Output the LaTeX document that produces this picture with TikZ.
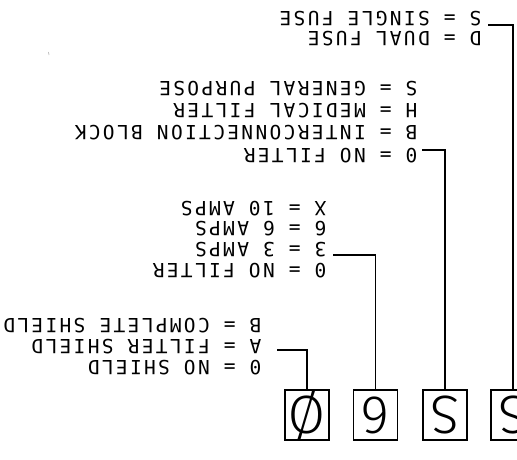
\documentclass[tikz,border=0pt]{standalone}
\usepackage{fontspec}
\newfontfamily\cadfont[LetterSpace=12]{DejaVu Sans Mono}
\newfontfamily\boxfont{Fira Sans Light}
\begin{document}
\begin{tikzpicture}[x=1pt,y=-1pt,line width=1.1pt,
  codetext/.style={rotate=180,anchor=west,inner sep=0pt,text height=13.5pt,text depth=0pt,font=\cadfont\fontsize{19.5}{20}\selectfont},
  digitbox/.style={draw,minimum width=44pt,minimum height=50pt,inner sep=0pt},
  digit/.style={rotate=180,inner sep=0pt,font=\boxfont\fontsize{54}{54}\selectfont}]
\useasboundingbox (0,0) rectangle (517,459);
% Kennziffern-Kaestchen (Bild steht auf dem Kopf)
\node[digitbox] (shield) at (307,415) {}; \node[digit] (shieldDigit) at (shield) {Ø};
\node[digitbox] (amps) at (375.5,415) {}; \node[digit] (ampsDigit) at (amps) {6};
\node[digitbox] (filter) at (445,415) {}; \node[digit] (filterDigit) at (filter) {S};
\node[digitbox] (fuse) at (513,415) {}; \node[digit] (fuseDigit) at (fuse) {S};
% Sicherung
\foreach \t [count=\i] in {S = SINGLE FUSE, D = DUAL FUSE}
  \node[codetext] (fuse\i) at (482,{18+20*(\i-1)}) {\t};
% Filter
\foreach \t [count=\i] in {S = GENERAL PURPOSE, H = MEDICAL FILTER, B = INTERCONNECTION BLOCK, 0 = NO FILTER}
  \node[codetext] (filter\i) at (418,{88+22.3*(\i-1)}) {\t};
% Strom
\foreach \t [count=\i] in {X = 10 AMPS, 6 = 6 AMPS, 3 = 3 AMPS, 0 = NO FILTER}
  \node[codetext] (amps\i) at (327,{208+20.7*(\i-1)}) {\t};
% Abschirmung
\foreach \t [count=\i] in {B = COMPLETE SHIELD, A = FILTER SHIELD, 0 = NO SHIELD}
  \node[codetext] (shield\i) at (262,{325+21*(\i-1)}) {\t};
% Zuordnungslinien
\coordinate (fuseEnd) at (488,25); \draw (fuse.north) |- (fuseEnd);
\coordinate (filterEnd) at (422,150); \draw (filter.north) |- (filterEnd);
\coordinate (ampsEnd) at (333,255); \draw (amps.north) |- (ampsEnd);
\coordinate (shieldEnd) at (277,350); \draw (shield.north) |- (shieldEnd);
% Fleck
\draw[gray!60,line width=0.6pt] (48.5,52) -- (49,55);
\end{tikzpicture}
\end{document}
